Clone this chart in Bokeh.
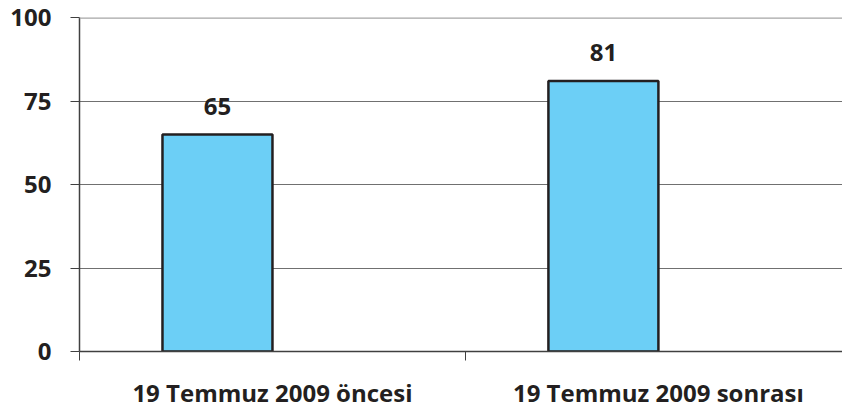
from bokeh.plotting import figure
from bokeh.models import Range1d, FixedTicker, Span, ColumnDataSource
from bokeh.core.properties import value
from bokeh.embed import file_html
from bokeh.resources import INLINE

categories = ["19 Temmuz 2009 öncesi", "19 Temmuz 2009 sonrası"]
values = [65, 81]
y_ticks = [0, 25, 50, 75, 100]
y_max = 100

FONT = "Open Sans"
TXT = "#231F20"
bar_w = 0.285

idx = list(range(len(categories)))
xs = [i + 0.5 - bar_w / 2 for i in idx]
src = ColumnDataSource(dict(x=xs, top=values, label=[str(v) for v in values]))

p = figure(width=842, height=411, output_backend="svg", toolbar_location=None,
           x_range=Range1d(0, 1.977), y_range=Range1d(0, y_max),
           min_border_left=79, min_border_right=0, min_border_top=17, min_border_bottom=58)
p.outline_line_color = None
p.background_fill_color = "white"
p.border_fill_color = "white"

p.vbar(x="x", top="top", width=bar_w, bottom=0, source=src,
       fill_color="#6CCFF6", line_color=TXT, line_width=2.5)

p.text(x="x", y="top", text="label", source=src, text_align="center",
       text_baseline="alphabetic", y_offset=-28, text_font=value(FONT),
       text_font_style="bold", text_font_size="24px", text_color=TXT)

# y axis
p.yaxis.ticker = FixedTicker(ticks=y_ticks)
p.yaxis.axis_line_color = "#404040"
p.yaxis.axis_line_width = 1.5
p.yaxis.major_tick_line_color = "#404040"
p.yaxis.major_tick_out = 9
p.yaxis.major_tick_in = 0
p.yaxis.minor_tick_line_color = None
p.yaxis.major_label_standoff = 19
p.yaxis.major_label_text_font = FONT
p.yaxis.major_label_text_font_style = "bold"
p.yaxis.major_label_text_font_size = "24px"
p.yaxis.major_label_text_color = TXT

# x axis: labels at category centres, ticks at category boundaries
centres = [i + 0.5 for i in idx]
bounds = list(range(len(categories) + 1))
p.xaxis.ticker = FixedTicker(ticks=centres, minor_ticks=bounds)
p.xaxis.major_label_overrides = {c: lab for c, lab in zip(centres, categories)}
p.xaxis.axis_line_color = "#404040"
p.xaxis.axis_line_width = 1.5
p.xaxis.major_tick_line_color = None
p.xaxis.major_tick_out = 0
p.xaxis.major_tick_in = 0
p.xaxis.minor_tick_line_color = "#404040"
p.xaxis.minor_tick_out = 9
p.xaxis.minor_tick_in = 0
p.xaxis.major_label_standoff = 15
p.xaxis.major_label_text_font = FONT
p.xaxis.major_label_text_font_style = "bold"
p.xaxis.major_label_text_font_size = "24px"
p.xaxis.major_label_text_color = TXT

p.xgrid.grid_line_color = None
p.ygrid.ticker = FixedTicker(ticks=y_ticks[1:-1])
p.ygrid.grid_line_color = "#707070"
p.ygrid.grid_line_width = 1

p.add_layout(Span(location=y_max, dimension="width", line_color="#A6A6A6", line_width=2.5))

open("out.html", "w").write(file_html(p, INLINE))
